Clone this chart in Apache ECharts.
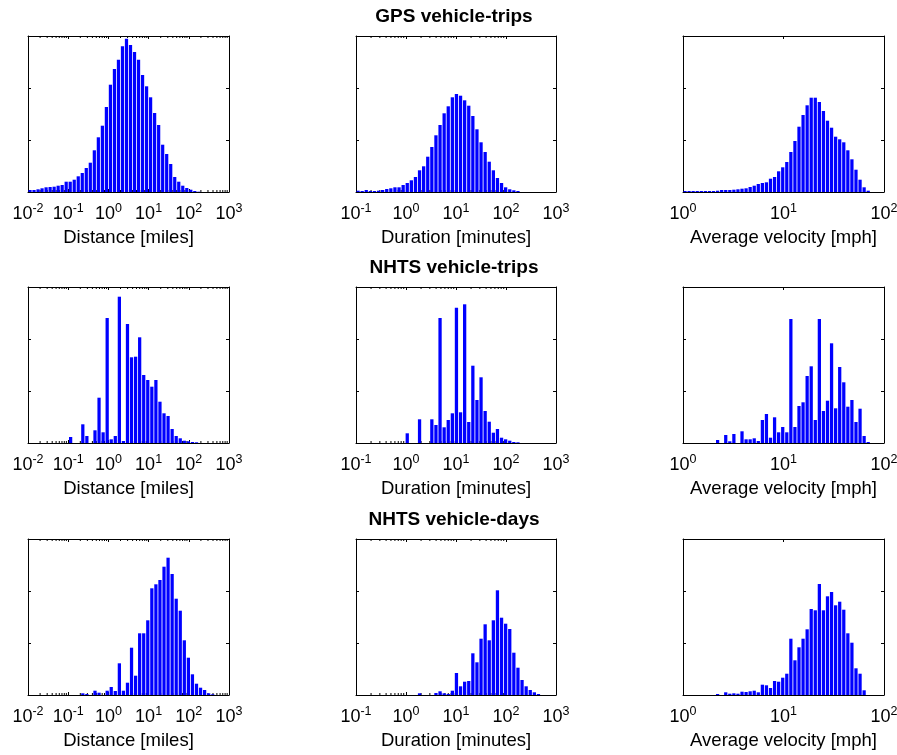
<!DOCTYPE html>
<html><head><meta charset="utf-8">
<script src="https://cdn.jsdelivr.net/npm/echarts/dist/echarts.min.js"></script>
<style>html,body{margin:0;padding:0;background:#fff}#c{width:897px;height:755px}</style>
</head><body><div id="c"></div><script>
// ---------- DATA ----------
const rowTitles = ['GPS vehicle-trips', 'NHTS vehicle-trips', 'NHTS vehicle-days'];
const colNames = ['Distance [miles]', 'Duration [minutes]', 'Average velocity [mph]'];
// x-axis decade ranges (exponents of 10) per column
const colExpMin = [-2, -1, 0];
const colExpMax = [3, 3, 2];
// tick labels are 10^exp for each integer exp in range
const yMax = 156;           // relative frequency scale (box height)

// Histogram bins: log10 start, log10 bin width, counts
const gpsDistStart = -2, gpsDistWidth = 0.1;
const gpsDist = [2,2,2.7,3.7,4.7,5,5.3,6.3,7,10.3,10.3,12.3,15.7,19,24,29.3,41.7,54.7,66.3,85,107.3,123,132.3,145.7,153.3,147,140,132.3,117,105.7,94.7,79,67,47.3,38,28,15,10.3,6.3,4,2.3,1,0.3];

const gpsDurStart = -1, gpsDurWidth = 0.082;
const gpsDur = [1.3,1,2,1,1,1.3,2,3,3.7,4.7,4.7,7,9,11.7,15,21.7,25.7,35.3,45,56.7,67,78.7,85.7,94.7,98,96.3,91.7,86.3,76,62.7,49.7,40,30.3,21.7,14,9,4.7,2.7,1.7,1];

const gpsVelStart = 0, gpsVelWidth = 0.0405;
const gpsVel = [1,1,1,1,1,1,1,1,1.3,2,2,2,2.3,2.7,3.3,3.7,5,6.3,8,9,9.7,13.3,15,20.7,24.7,30,40,51,65.3,77,86.7,94.3,94.3,90,81,71.3,64.3,55.3,52.7,49.7,41.7,32.7,22.3,12.3,4.7,1.3];

const tripDistStart = -2, tripDistWidth = 0.101;
const tripDist = [0,0,0,0,0,0,0,0,0,0,6,0,0,18.7,7,0,12.7,45.3,10.7,125,3.7,7,146.3,2,119,85.7,86.3,105.7,68,63,56.3,63,41.3,29.7,27,14,7,4.7,2.3,1.7,1,0.7];

const tripDurStart = -1, tripDurWidth = 0.082;
const tripDur = [0,0,0,0,0,0,0,0,0,0,0,0,9.7,0,0,23.7,0,0,23.7,18,125,15.7,23,29.7,135.3,30.7,138.7,21,77.3,43,65.7,32,21.3,10.3,14,5.3,3.7,2.3,1,0.7];

const tripVelStart = 0, tripVelWidth = 0.0405;
const tripVel = [0,0,0,0,0,0,0,0,3,0,8,1.7,9,0,11.7,3.7,3.7,4.7,2,23,29,5.3,25.7,10.7,16,10.7,124,16,37,40.7,67,76.7,23,124,32,42.3,99.7,34.7,76,60.7,36.3,43,21,34.3,7,1];

const dayDistStart = -2, dayDistWidth = 0.101;
const dayDist = [0,0,0,0,0,0,0,0,0,0,0,0,0,1.7,1,0,4.3,2.3,0,4.3,8,4,31.7,4.3,12.3,47.3,19.3,61.7,61.7,74.7,106.7,110.7,115,128.3,137.3,121,96.3,84.3,54.7,37.3,20.7,11.3,7.3,5,1.7,0.7];

const dayDurStart = -1, dayDurWidth = 0.082;
const dayDur = [0,0,0,0,0,0,0,0,0,0,0,0,0,0,0,1.7,0,0,0,2,3.7,1.7,1,4.3,22,8.7,13.3,14,41.7,32.7,56.3,70.7,54.7,74.7,104.7,77.3,71.3,66,42.3,27.3,15,8.7,5,2.7,1];

const dayVelStart = 0, dayVelWidth = 0.0405;
const dayVel = [0,0,0,0,0,0,0,0,1,0,2.7,1.3,1.7,1.3,3.3,3,3.7,4.3,2.7,10.3,9.7,7,14,13.3,17.3,21.3,56.3,34.7,47.7,56.3,65.7,86,84.7,111,84.7,98.7,103,89.7,93.3,85.3,61.7,52.3,26.7,21.3,4.7];

// ---------- LAYOUT ----------
const panels = [
  [gpsDistStart, gpsDistWidth, gpsDist], [gpsDurStart, gpsDurWidth, gpsDur], [gpsVelStart, gpsVelWidth, gpsVel],
  [tripDistStart, tripDistWidth, tripDist], [tripDurStart, tripDurWidth, tripDur], [tripVelStart, tripVelWidth, tripVel],
  [dayDistStart, dayDistWidth, dayDist], [dayDurStart, dayDurWidth, dayDur], [dayVelStart, dayVelWidth, dayVel]
];
const gridLeft = [28, 356, 683], gridWidth = [201, 200, 201];
const gridTop = [36, 287, 539], gridHeight = 156;
const minorDecades = [5, 3, 0]; // number of decades (from min) showing minor ticks
const FONT = "'Liberation Sans', Arial, Helvetica, sans-serif";

const grids = [], xAxes = [], yAxes = [], series = [], titles = [];
rowTitles.forEach((t, r) => {
  titles.push({text: t, left: 454, textAlign: 'center', top: gridTop[r] - 29, padding: 0,
    textStyle: {fontFamily: FONT, fontSize: 19, fontWeight: 'bold', color: '#000'}});
});

panels.forEach((p, g) => {
  const r = Math.floor(g / 3), c = g % 3;
  const [start, width, counts] = p;
  grids.push({left: gridLeft[c], top: gridTop[r], width: gridWidth[c], height: gridHeight,
    containLabel: false, outerBoundsMode: 'none', show: false});
  const axLine = {show: true, onZero: false, lineStyle: {color: '#000', width: 1}};
  const base = {gridIndex: g, type: 'value', min: colExpMin[c], max: colExpMax[c], interval: 1,
    axisLine: axLine, splitLine: {show: false},
    axisTick: {show: true, inside: true, length: 3, lineStyle: {color: '#000'}}};
  xAxes.push(Object.assign({}, base, {position: 'bottom',
    name: colNames[c], nameLocation: 'middle', nameGap: 36, nameMoveOverlap: false,
    nameTextStyle: {fontFamily: FONT, fontSize: 18.5, color: '#000'},
    axisLabel: {show: true, margin: 10, hideOverlap: false, showMinLabel: true, showMaxLabel: true,
      formatter: v => '{b|10}{s|' + v + '}',
      rich: {b: {fontFamily: FONT, fontSize: 18, color: '#000'},
             s: {fontFamily: FONT, fontSize: 12.5, color: '#000', padding: [0, 0, 11, 0]}}}
  }));
  xAxes.push(Object.assign({}, base, {position: 'top', axisLabel: {show: false}}));
  const ybase = {gridIndex: g, type: 'value', min: 0, max: yMax, interval: yMax / 3,
    axisLine: axLine, splitLine: {show: false}, axisLabel: {show: false},
    axisTick: {show: true, inside: true, length: 3, lineStyle: {color: '#000'}}};
  yAxes.push(Object.assign({}, ybase, {position: 'left'}));
  yAxes.push(Object.assign({}, ybase, {position: 'right'}));

  const bins = counts.map((v, i) => [start + i * width, start + (i + 1) * width, v]);
  series.push({type: 'custom', xAxisIndex: 2 * g, yAxisIndex: 2 * g, data: bins, z: 3,
    encode: {x: [0, 1], y: 2}, silent: true, animation: false,
    renderItem: (params, api) => {
      const x0 = api.value(0), x1 = api.value(1), h = api.value(2);
      if (!(h > 0)) return null;
      const pad = (x1 - x0) * 0.1;
      const a = api.coord([x0 + pad, h]), b = api.coord([x1 - pad, 0]);
      return {type: 'rect', shape: {x: a[0], y: a[1], width: b[0] - a[0], height: b[1] - a[1]},
        style: {fill: '#0000ff'}};
    }});

  // minor log ticks at k*10^n
  const minor = [];
  for (let n = colExpMin[c]; n < colExpMin[c] + minorDecades[c]; n++)
    for (let k = 2; k <= 9; k++) minor.push([n + Math.log10(k)]);
  if (minor.length) series.push({type: 'custom', xAxisIndex: 2 * g, yAxisIndex: 2 * g, data: minor, z: 2,
    encode: {x: 0}, silent: true, animation: false,
    renderItem: (params, api) => {
      const x = api.value(0);
      const b = api.coord([x, 0]), t = api.coord([x, yMax]);
      return {type: 'group', children: [
        {type: 'line', shape: {x1: b[0], y1: b[1], x2: b[0], y2: b[1] - 2}, style: {stroke: '#000', lineWidth: 1}},
        {type: 'line', shape: {x1: t[0], y1: t[1], x2: t[0], y2: t[1] + 2}, style: {stroke: '#000', lineWidth: 1}}]};
    }});
});

const chart = echarts.init(document.getElementById('c'), null, {renderer: 'canvas'});
chart.setOption({animation: false, backgroundColor: '#fff', title: titles,
  grid: grids, xAxis: xAxes, yAxis: yAxes, series: series});
</script></body></html>
